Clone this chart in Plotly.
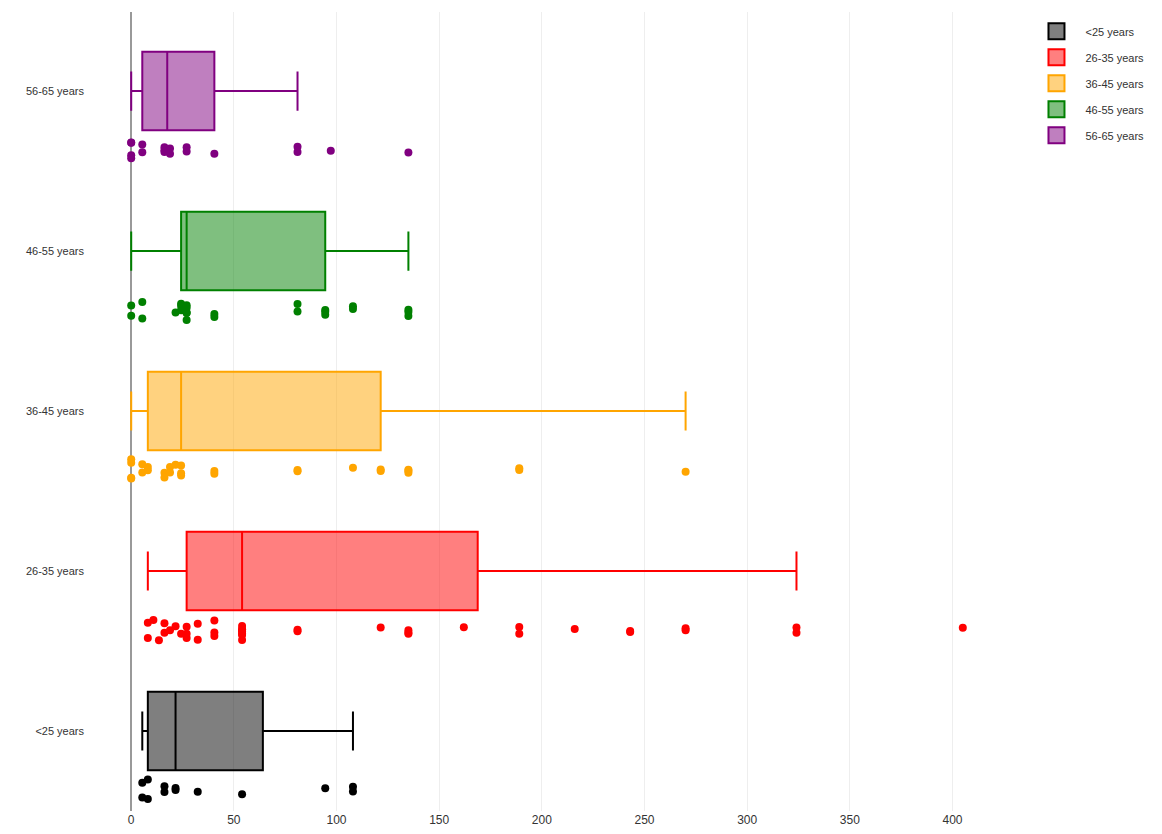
import plotly.graph_objects as go

groups = ["<25 years", "26-35 years", "36-45 years", "46-55 years", "56-65 years"]
colors = ["black", "red", "orange", "green", "purple"]
fills = ["rgba(0,0,0,0.5)", "rgba(255,0,0,0.5)", "rgba(255,165,0,0.5)",
         "rgba(0,128,0,0.5)", "rgba(128,0,128,0.5)"]

under_25 = [5.4, 5.4, 8.1, 8.1, 16.2, 16.2, 21.6, 21.6, 32.4, 54, 94.5, 108, 108]
age_26_35 = [8.1, 8.1, 10.8, 13.5, 16.2, 16.2, 18.9, 21.6, 24.3, 27,
             27, 27, 32.4, 32.4, 40.5, 40.5, 40.5, 54, 54, 54, 54,
             54, 54, 54, 81, 81, 121.5, 135, 135, 135, 162,
             189, 189, 216, 243, 243, 270, 270, 324, 324, 405]
age_36_45 = [0, 0, 0, 0, 5.4, 5.4, 8.1, 8.1,
             16.2, 16.2, 18.9, 18.9, 21.6, 24.3, 24.3,
             24.3, 40.5, 40.5, 81, 81, 108,
             121.5, 121.5, 135, 135, 135, 189, 189, 270]
age_46_55 = [0, 0, 5.4, 5.4, 21.6, 24.3, 24.3, 24.3, 27, 27, 27, 27, 27,
             40.5, 40.5, 81, 81, 94.5, 94.5, 94.5, 108, 108, 135, 135, 135]
age_56_65 = [0, 0, 0, 0, 5.4, 5.4, 16.2, 16.2, 16.2, 18.9, 18.9, 27, 27,
             40.5, 81, 81, 97.2, 135]

series = [under_25, age_26_35, age_36_45, age_46_55, age_56_65]

fig = go.Figure()
for name, col, fc, vals in zip(groups, colors, fills, series):
    fig.add_trace(go.Box(
        x=vals, name=name, orientation="h",
        boxpoints="all", jitter=0.35, pointpos=-1.5,
        marker=dict(color=col, size=8),
        line=dict(color=col, width=2),
        fillcolor=fc,
        showlegend=False,
    ))
# legend entries with larger square swatches
for name, col, fc in zip(groups, colors, fills):
    fig.add_trace(go.Scatter(
        x=[None], y=[None], mode="markers", name=name,
        legendgroup=name,
        marker=dict(symbol="square", size=16, color=fc,
                    line=dict(color=col, width=2)),
    ))

fig.update_layout(
    paper_bgcolor="white", plot_bgcolor="white",
    font=dict(family="Liberation Sans, Arial", size=12, color="#333"),
    margin=dict(l=77, r=145, t=4, b=15, autoexpand=False),
    boxgap=0.3, boxgroupgap=0.3,
    legend=dict(font=dict(size=11), itemwidth=48, tracegroupgap=7,
                x=1.02, y=0.994, yanchor="top"),
    xaxis=dict(range=[-22.5, 427.5], showgrid=True, gridcolor="#eeeeee",
               zeroline=True, zerolinecolor="#999999", zerolinewidth=2,
               dtick=50, tickfont=dict(size=12), automargin=False),
    yaxis=dict(range=[-0.5, 4.494], showgrid=False, zeroline=False,
               tickfont=dict(size=11), automargin=False),
)

fig.write_html("out.html")
